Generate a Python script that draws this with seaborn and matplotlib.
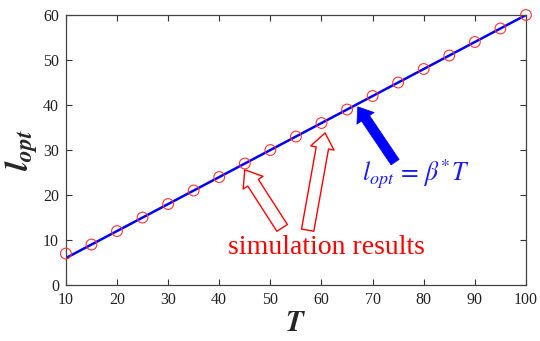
import matplotlib
matplotlib.use("Agg")
import matplotlib.pyplot as plt
import seaborn as sns
import pandas as pd

# data
T_sim = [10, 15, 20, 25, 30, 35, 40, 45, 50, 55, 60, 65, 70, 75, 80, 85, 90, 95, 100]
l_sim = [7, 9, 12, 15, 18, 21, 24, 27, 30, 33, 36, 39, 42, 45, 48, 51, 54, 57, 60]
T_fit = [10, 100]
l_fit = [6, 60]
x_ticks = [10, 20, 30, 40, 50, 60, 70, 80, 90, 100]
y_ticks = [0, 10, 20, 30, 40, 50, 60]

sns.set_style("ticks")
plt.rcParams['font.family'] = ['Liberation Serif', 'DejaVu Serif']
plt.rcParams['mathtext.fontset'] = 'stix'

fig = plt.figure(figsize=(5.4, 3.41), dpi=100)
ax = fig.add_axes([0.122, 0.164, 0.852, 0.792])

df_sim = pd.DataFrame({"T": T_sim, "l": l_sim})
df_fit = pd.DataFrame({"T": T_fit, "l": l_fit})

sns.lineplot(data=df_fit, x="T", y="l", ax=ax, color="#0000ff", linewidth=1.8, zorder=2)
sns.scatterplot(data=df_sim, x="T", y="l", ax=ax, marker="o", s=60,
                facecolor="none", edgecolor="#ff3333", linewidth=0.8, zorder=3,
                clip_on=False)

ax.set_xlim(10, 100)
ax.set_ylim(0, 60)
ax.set_xticks(x_ticks)
ax.set_yticks(y_ticks)
ax.tick_params(direction="in", top=True, right=True, length=4, width=0.8,
               labelsize=11.5, colors="#333333", labelcolor="#222222", pad=5)
for s in ax.spines.values():
    s.set_color("#444444")
    s.set_linewidth(0.9)

ax.set_xlabel(r"$\mathbfit{T}$", fontsize=21, labelpad=2)
ax.set_ylabel(r"$\mathbfit{l}_{\mathbfit{opt}}$", fontsize=24, labelpad=2)

# blue filled arrow
ax.annotate("", xy=(67.1, 39.6), xytext=(74.4, 27.3),
            arrowprops=dict(width=7, headwidth=15, headlength=10,
                            fc="#0000ff", ec="#0000ff", lw=0.5, shrink=0))
ax.text(78.5, 24.5, r"$l_{opt}\,=\,\beta^{*}T$", color="#1a1aff", fontsize=18.5,
        ha="center", va="center")

# red hollow arrows
for tip, tail in [((45.0, 25.6), (52.3, 12.7)), ((60.7, 33.8), (57.3, 12.2))]:
    ax.annotate("", xy=tip, xytext=tail,
                arrowprops=dict(width=9, headwidth=17, headlength=11,
                                fc="white", ec="#ff0000", lw=1.0, shrink=0))
ax.text(60.9, 8.4, "simulation results", color="#ff0000", fontsize=20,
        ha="center", va="center")

fig.savefig("out.png", dpi=100)
